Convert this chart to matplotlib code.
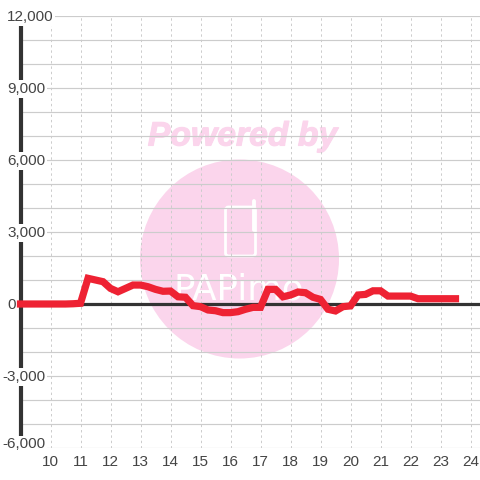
import matplotlib
matplotlib.use('Agg')
import matplotlib.pyplot as plt
import matplotlib.patheffects as pe
from matplotlib.patches import Circle, FancyBboxPatch
from matplotlib.lines import Line2D

plt.rcParams['font.family'] = ['Liberation Sans', 'DejaVu Sans']

# sampled every 15 minutes, from 9:00 to 23:30
hours = [9 + i * 0.25 for i in range(59)]
values = [0, 0, 0, 0, 0, 0, 0, 10, 30,  # 9:00
          1070, 1000, 930, 650, 510, 650, 790, 790, 720, 610, 530, 540,  # 11:15
          300, 280, -70, -110, -250, -280, -360, -360, -320, -220, -140, -140,  # 14:15
          610, 610, 300, 375, 500, 470, 280, 190, -220, -290, -110, -80,  # 17:15
          375, 400, 550, 550, 330, 330, 330, 330, 220, 220, 220, 220, 220, 220]  # 20:15

y_ticks = [12000, 9000, 6000, 3000, 0, -3000, -6000]
x_ticks = list(range(10, 25))

DARK = '#333333'
PINK = '#fbd5ec'
RED = '#ee2233'

fig = plt.figure(figsize=(4.8, 4.8), dpi=100)
ax = fig.add_axes([20.5 / 480, 1 - 448 / 480, 459.5 / 480, 432 / 480])
ax.patch.set_visible(False)
ax.set_xlim(9, 9 + 459.5 / 30)
ax.set_ylim(-6000, 12000)


# watermark, in pixels from the top left corner
def py(y):
    return 480 - y


fig.add_artist(Circle((239.5, py(259)), 99.5, color=PINK, lw=0, transform=None, zorder=-2))
fig.add_artist(FancyBboxPatch((225.5, py(256)), 30, 49, boxstyle='round,pad=0,rounding_size=3',
                              fc='none', ec='white', lw=2.0, transform=None, zorder=-1))
fig.add_artist(Line2D([254, 254], [py(230), py(201)], color='white', lw=2.8,
                      solid_capstyle='round', transform=None, zorder=-1))
fig.text(242.5 / 480, 1 - 137 / 480, 'Powered by', color=PINK, fontsize=24.3, fontweight='bold',
         fontstyle='italic', ha='center', va='center', zorder=-1,
         path_effects=[pe.withStroke(linewidth=0.8, foreground=PINK)])
fig.text(239 / 480, 1 - 299 / 480, 'PAPimo', color='white', fontsize=25.6,
         family='DejaVu Sans', ha='center', va='baseline', zorder=-1)

# grid
ax.set_yticks(range(-6000, 12001, 1000))
ax.set_xticks(x_ticks)
ax.set_axisbelow(True)
ax.grid(axis='y', color='#cccccc', lw=0.85)
ax.grid(axis='x', color='#cccccc', lw=0.7, linestyle=(0, (2.5, 3)))
ax.tick_params(length=0, labelleft=False, labelsize=11, labelcolor='#444444', pad=5)
for s in ax.spines.values():
    s.set_visible(False)

ax.axvline(9, color=DARK, lw=3, zorder=2, clip_on=False)
ax.axhline(0, color=DARK, lw=2.3, zorder=2)

for v in y_ticks:
    # the lowest label sits a little above its gridline
    y = v + 150 if v == -6000 else v - 30
    ax.text(8.55 if v >= 0 else 8.38, y, format(v, ','), fontsize=11, color='#444444',
            ha='left', va='center', zorder=3,
            bbox=dict(fc='white', ec='none', pad=1.3))

ax.plot(hours, values, color=RED, lw=5.2, solid_capstyle='projecting', solid_joinstyle='miter',
        zorder=4, clip_on=False)

fig.savefig('out.png', dpi=100)
